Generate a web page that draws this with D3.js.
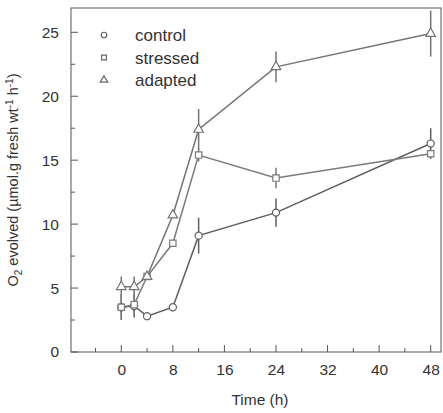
<!DOCTYPE html>
<html>
<head>
<meta charset="utf-8">
<script src="https://cdn.jsdelivr.net/npm/d3@7"></script>
<style>
  body { margin: 0; background: #fff; }
  text { font-family: Arial, "Liberation Sans", sans-serif; fill: #333; }
</style>
</head>
<body>
<div class="chart"></div>
<script>
// data
const hours = [0, 2, 4, 8, 12, 24, 48];
const controlVals = [3.5, 3.6, 2.8, 3.5, 9.1, 10.9, 16.3];
const controlErr = [1.0, 0.9, 0, 0, 1.4, 1.1, 1.2];
const stressedVals = [3.5, 3.7, 5.9, 8.5, 15.4, 13.6, 15.5];
const stressedErr = [0.8, 0.8, 0, 0, 0.5, 0.8, 0];
const adaptedVals = [5.1, 5.1, 5.9, 10.7, 17.4, 22.3, 24.9];
const adaptedErr = [0.8, 0.8, 0, 0, 1.6, 1.2, 1.8];
const xTicks = [0, 8, 16, 24, 32, 40, 48];
const yTicks = [0, 5, 10, 15, 20, 25];
const seriesNames = ['control', 'stressed', 'adapted'];

const margin = ({top: 8, right: 2, bottom: 61, left: 71});
const width = 443 - margin.left - margin.right,
    height = 413 - margin.top - margin.bottom;

const svg = d3.select(".chart").append("svg")
    .attr("width", 443)
    .attr("height", 413)
    .append("g")
    .attr("transform", "translate(" + margin.left + "," + margin.top + ")");

const xScale = d3.scaleLinear().domain([-7.8, 49.6]).range([0, width]);
const yScale = d3.scaleLinear().domain([0, 26.9]).range([height, 0]);

// frame
svg.append('rect')
    .attr('width', width).attr('height', height)
    .attr('fill', 'none').attr('stroke', '#555').attr('stroke-width', 1);

// x axis, ticks pointing in
const xAxis = d3.axisBottom(xScale).tickValues(xTicks).tickSize(0).tickPadding(12);
svg.append('g').attr('class', 'axis x-axis')
    .attr('transform', 'translate(0,' + height + ')')
    .call(xAxis)
    .call(g => g.select('.domain').remove())
    .selectAll('text').attr('font-size', 15.5);
svg.append('g').selectAll('line')
    .data(d3.range(-4, 49, 4))
    .join('line')
    .attr('x1', d => xScale(d)).attr('x2', d => xScale(d))
    .attr('y1', height)
    .attr('y2', d => height - (d % 8 === 0 ? 7 : 4))
    .attr('stroke', '#555');

// y axis, ticks pointing in
const yAxis = d3.axisLeft(yScale).tickValues(yTicks).tickSize(0).tickPadding(12);
svg.append('g').attr('class', 'axis y-axis')
    .call(yAxis)
    .call(g => g.select('.domain').remove())
    .selectAll('text').attr('font-size', 15.5);
svg.append('g').selectAll('line')
    .data(d3.range(0, 26, 2.5))
    .join('line')
    .attr('y1', d => yScale(d)).attr('y2', d => yScale(d))
    .attr('x1', 0)
    .attr('x2', d => d % 5 === 0 ? 7 : 4)
    .attr('stroke', '#555');

// axis titles
const yTitle = svg.append('text')
    .attr('transform', 'translate(-53,' + (height / 2) + ') rotate(-90)')
    .attr('text-anchor', 'middle')
    .attr('font-size', 14.5);
yTitle.append('tspan').text('O');
yTitle.append('tspan').text('2').attr('font-size', 10).attr('dy', 4);
yTitle.append('tspan').text(' evolved (µmol.g fresh wt').attr('dy', -4);
yTitle.append('tspan').text('-1').attr('font-size', 10).attr('dy', -5);
yTitle.append('tspan').text(' h').attr('dy', 5);
yTitle.append('tspan').text('-1').attr('font-size', 10).attr('dy', -5);
yTitle.append('tspan').text(')').attr('dy', 5);

svg.append('text')
    .attr('x', xScale(24) - 16).attr('y', height + 53)
    .attr('text-anchor', 'middle')
    .attr('font-size', 15.5)
    .text('Time (h)');

const series = [
  {name: 'control', vals: controlVals, err: controlErr, color: '#5e5e5e', shape: d3.symbolCircle},
  {name: 'stressed', vals: stressedVals, err: stressedErr, color: '#7a7a7a', shape: d3.symbolSquare},
  {name: 'adapted', vals: adaptedVals, err: adaptedErr, color: '#747474', shape: d3.symbolTriangle}
];

const line = d3.line().x(d => xScale(d[0])).y(d => yScale(d[1]));

series.forEach(s => {
  const pts = hours.map((h, i) => [h, s.vals[i], s.err[i]]);
  svg.append('g').selectAll('line')
      .data(pts.filter(p => p[2] > 0))
      .join('line')
      .attr('x1', d => xScale(d[0])).attr('x2', d => xScale(d[0]))
      .attr('y1', d => yScale(d[1] - d[2])).attr('y2', d => yScale(d[1] + d[2]))
      .attr('stroke', s.color).attr('stroke-width', 1.5);
  svg.append('path')
      .datum(pts)
      .attr('d', line)
      .attr('fill', 'none')
      .attr('stroke', s.color)
      .attr('stroke-width', 1.5);
});

series.forEach(s => {
  const pts = hours.map((h, i) => [h, s.vals[i]]);
  svg.append('g').selectAll('path')
      .data(pts)
      .join('path')
      .attr('transform', d => 'translate(' + xScale(d[0]) + ',' + yScale(d[1]) + ')')
      .attr('d', d3.symbol().type(s.shape).size(40))
      .attr('fill', '#fff')
      .attr('stroke', s.color)
      .attr('stroke-width', 1.2);
});

// legend
const legend = svg.append('g').attr('transform', 'translate(33,27)');
series.forEach((s, i) => {
  legend.append('path')
      .attr('transform', 'translate(0,' + (i * 22.5) + ')')
      .attr('d', d3.symbol().type(s.shape).size(24))
      .attr('fill', '#fff').attr('stroke', '#666').attr('stroke-width', 1.2);
  legend.append('text')
      .attr('x', 31).attr('y', i * 22.5 + 6)
      .attr('font-size', 17)
      .text(seriesNames[i]);
});
</script>
</body>
</html>
